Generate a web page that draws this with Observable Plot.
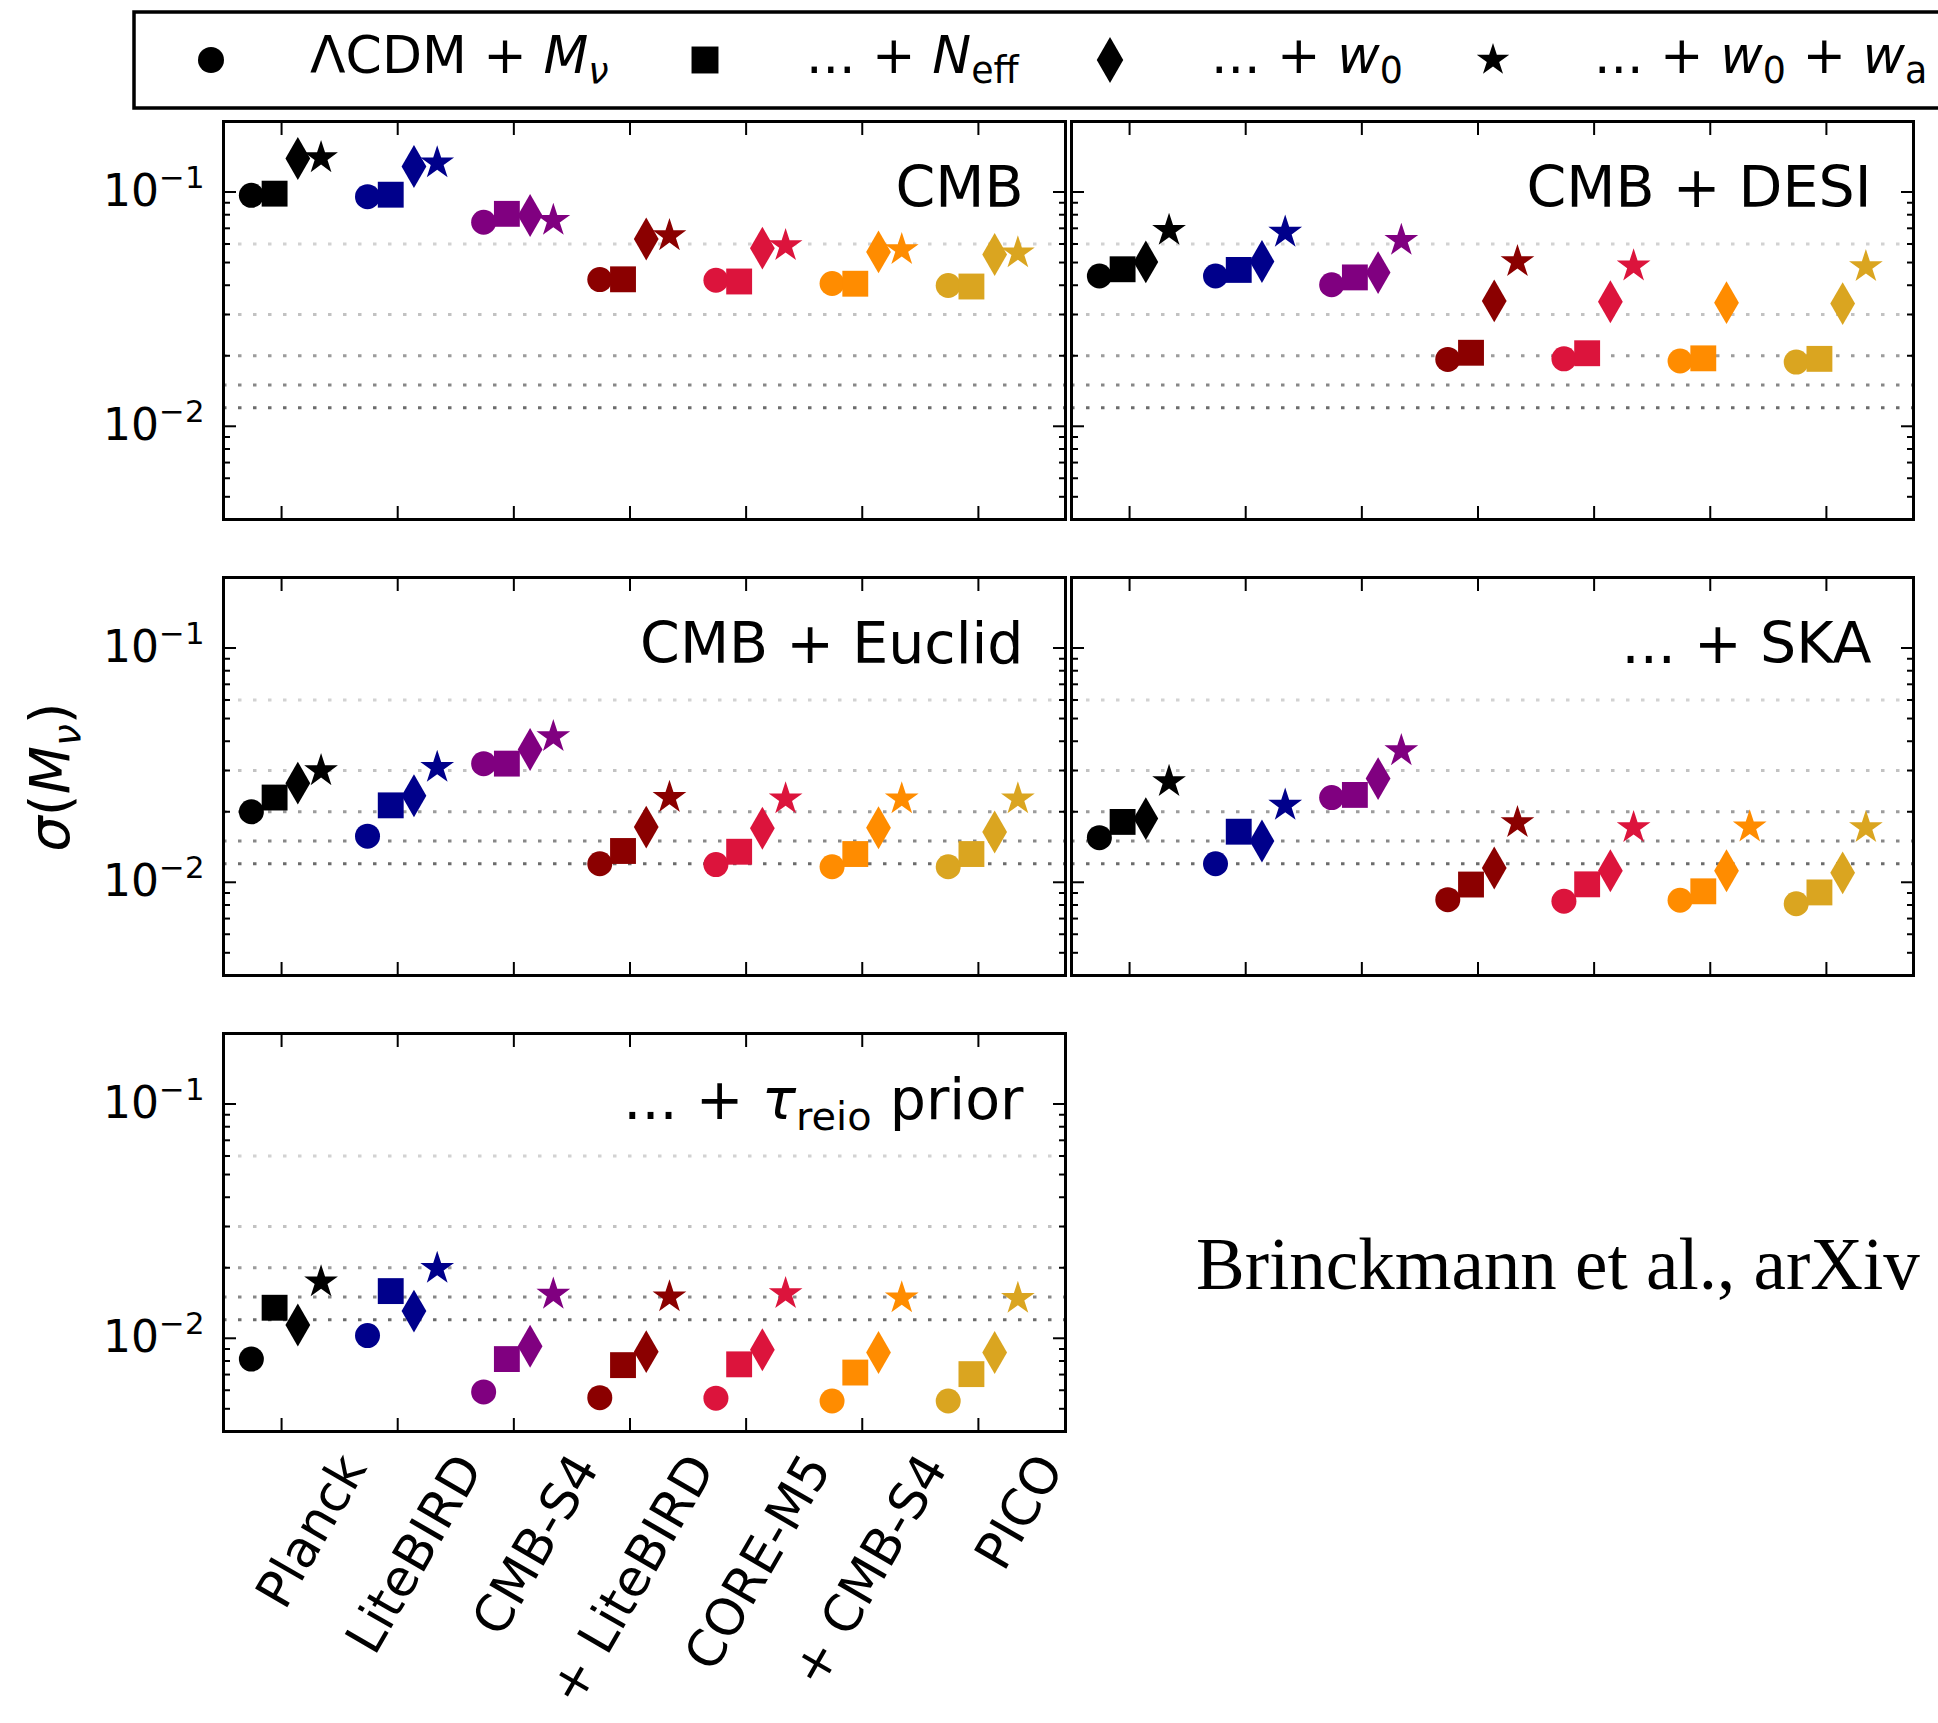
<!DOCTYPE html>
<html><head><meta charset="utf-8">
<script src="https://cdn.jsdelivr.net/npm/d3@7"></script>
<script src="https://cdn.jsdelivr.net/npm/@observablehq/plot@0.6"></script>
<style>
html,body{margin:0;padding:0;background:#fff;overflow:hidden;}
#page{position:relative;width:1938px;height:1723px;overflow:hidden;font-family:"DejaVu Sans",sans-serif;background:#fff;}
#page svg{position:absolute;}
</style></head><body><div id="page"></div>
<script>
// ---------------- data ----------------
const experiments = ["Planck", "LiteBIRD", "CMB-S4", "+ LiteBIRD", "CORE-M5", "+ CMB-S4", "PICO"];
const models = ["ΛCDM + Mν", "... + Neff", "... + w0", "... + w0 + wa"];
const targets = [0.06, 0.03, 0.02, 0.015, 0.012];
const yMajorTicks = [0.01, 0.1];
const yMinorTicks = [0.005, 0.006, 0.007, 0.008, 0.009, 0.02, 0.03, 0.04, 0.05, 0.06, 0.07, 0.08, 0.09];

// panel: CMB
const cmbMnu  = [0.0968, 0.0955, 0.0743, 0.0423, 0.0420, 0.0407, 0.0399];
const cmbNeff = [0.0984, 0.0974, 0.0807, 0.0424, 0.0415, 0.0406, 0.0395];
const cmbW0   = [0.139, 0.1285, 0.0794, 0.0630, 0.0576, 0.0555, 0.0541];
const cmbW0wa = [0.140, 0.133, 0.0756, 0.0650, 0.0590, 0.0567, 0.0549];
// panel: CMB + DESI
const desiMnu  = [0.0438, 0.0438, 0.0402, 0.0193, 0.0194, 0.0190, 0.0188];
const desiNeff = [0.0468, 0.0465, 0.0432, 0.0206, 0.0205, 0.0195, 0.0194];
const desiW0   = [0.0503, 0.0505, 0.0453, 0.0343, 0.0340, 0.0337, 0.0334];
const desiW0wa = [0.0686, 0.0673, 0.0621, 0.0504, 0.0483, null, 0.0480];
// panel: CMB + Euclid
const euclidMnu  = [0.0200, 0.01574, 0.0321, 0.0120, 0.0119, 0.01165, 0.01165];
const euclidNeff = [0.0230, 0.0213, 0.0321, 0.0136, 0.0135, 0.0132, 0.0132];
const euclidW0   = [0.0265, 0.0234, 0.0369, 0.0172, 0.0170, 0.0171, 0.0164];
const euclidW0wa = [0.0299, 0.0309, 0.0418, 0.0230, 0.0227, 0.0227, 0.0227];
// panel: ... + SKA
const skaMnu  = [0.0155, 0.0120, 0.0230, 0.00843, 0.0083, 0.00838, 0.0081];
const skaNeff = [0.0181, 0.01644, 0.0236, 0.00978, 0.0098, 0.00915, 0.00905];
const skaW0   = [0.0187, 0.0150, 0.0277, 0.0115, 0.0112, 0.0112, 0.01097];
const skaW0wa = [0.0269, 0.0213, 0.0364, 0.01795, 0.0171, 0.0172, 0.0171];
// panel: ... + tau_reio prior
const tauMnu  = [0.00815, 0.01027, 0.0059, 0.00558, 0.00555, 0.0054, 0.0054];
const tauNeff = [0.0135, 0.0159, 0.00815, 0.00768, 0.00774, 0.00714, 0.00703];
const tauW0   = [0.0114, 0.01306, 0.00925, 0.00877, 0.00893, 0.0087, 0.0087];
const tauW0wa = [0.0174, 0.01986, 0.0154, 0.0150, 0.0155, 0.01486, 0.0148];

const panelData = [
  [cmbMnu, cmbNeff, cmbW0, cmbW0wa],
  [desiMnu, desiNeff, desiW0, desiW0wa],
  [euclidMnu, euclidNeff, euclidW0, euclidW0wa],
  [skaMnu, skaNeff, skaW0, skaW0wa],
  [tauMnu, tauNeff, tauW0, tauW0wa]
];

// text with math-like parts
const panelTitles = [
  [{t: "CMB"}],
  [{t: "CMB + DESI"}],
  [{t: "CMB + Euclid"}],
  [{t: "... + SKA"}],
  [{t: "... + "}, {t: "τ", i: 1}, {t: "reio", sub: 1}, {t: " prior"}]
];
const legendLabels = [
  [{t: "ΛCDM + "}, {t: "M", i: 1}, {t: "ν", i: 1, sub: 1}],
  [{t: "... + "}, {t: "N", i: 1}, {t: "eff", sub: 1}],
  [{t: "... + "}, {t: "w", i: 1}, {t: "0", sub: 1}],
  [{t: "... + "}, {t: "w", i: 1}, {t: "0", sub: 1}, {t: " + "}, {t: "w", i: 1}, {t: "a", sub: 1}]
];
const yLabel = [{t: "σ", i: 1}, {t: "("}, {t: "M", i: 1}, {t: "ν", i: 1, sub: 1}, {t: ")"}];
const caption = "Brinckmann et al., arXiv";

// ---------------- styles / layout ----------------
const expColors = ["#000000", "#00008b", "#800080", "#8b0000", "#dc143c", "#ff8c00", "#daa520"];
const gridColors = ["#d2d2d2", "#c2c2c2", "#9c9c9c", "#878787", "#6c6c6c"];
const symbols = ["circle", "square", "diamond", "star"];
const radii = [12.5, 14.6, 13, 10.6];
const offsets = [-0.26, -0.06, 0.14, 0.34];
const xDomain = [-0.5, 6.75];
const yDomain = [0.004, 0.2];
const xTicks = experiments.map((_, i) => i);
const FRAME_W = 842, FRAME_H = 398;
const colsX = [223, 1071];
const rowsY = [121, 577, 1033];
const panelPos = [[0, 0], [1, 0], [0, 1], [1, 1], [0, 2]];
const TITLE_SIZE = 57, YTICK_SIZE = 44, XTICK_SIZE = 51;
const svgNS = "http://www.w3.org/2000/svg";
const page = document.getElementById("page");

function setRich(el, segs, size) {
  while (el.firstChild) el.removeChild(el.firstChild);
  let shift = 0;
  for (const s of segs) {
    const ts = document.createElementNS(svgNS, "tspan");
    ts.textContent = s.t;
    const target = s.sub ? 0.2 * size : s.sup ? -0.42 * size : 0;
    if (target !== shift) { ts.setAttribute("dy", target - shift); shift = target; }
    if (s.sub || s.sup) ts.setAttribute("font-size", 0.7 * size);
    if (s.i) ts.setAttribute("font-style", "italic");
    el.appendChild(ts);
  }
}
const plain = segs => segs.map(s => s.t).join("");

function buildPanel(p) {
  const [c, r] = panelPos[p];
  const isLeft = c === 0, isBottom = p === 4;
  const fx = colsX[c], fy = rowsY[r];
  const mL = isLeft ? fx : 4, mR = 4, mT = 4;
  const mB = isBottom ? 1723 - fy - FRAME_H : 4;
  const rows = [];
  panelData[p].forEach((vals, k) => vals.forEach((v, i) => {
    if (v != null) rows.push({i, k, exp: experiments[i], value: v});
  }));
  const marks = [];
  targets.forEach((t, j) => marks.push(Plot.ruleY([t], {stroke: gridColors[j], strokeWidth: 3, strokeDasharray: "3.5,11.5"})));
  models.forEach((m, k) => marks.push(Plot.dot(rows.filter(d => d.k === k), {
    x: d => d.i + offsets[k], y: "value", fill: "exp", symbol: symbols[k], r: radii[k]
  })));
  for (const anchor of ["left", "right"]) {
    marks.push(Plot.axisY({anchor, ticks: yMinorTicks, tickSize: -7, fill: "none", strokeWidth: 2, label: null}));
    marks.push(Plot.axisY({anchor, ticks: yMajorTicks, tickSize: -13, fill: "none", strokeWidth: 2, label: null}));
  }
  for (const anchor of ["top", "bottom"]) {
    marks.push(Plot.axisX({anchor, ticks: xTicks, tickSize: -13, fill: "none", strokeWidth: 2, label: null}));
  }
  if (isLeft) {
    marks.push(Plot.axisY({anchor: "left", ticks: yMajorTicks, tickSize: 0, tickPadding: 19,
      tickFormat: d => "10^" + Math.round(Math.log10(d)), fontSize: YTICK_SIZE, label: null}));
  }
  if (isBottom) {
    marks.push(Plot.axisX({anchor: "bottom", ticks: xTicks, tickSize: 0, tickPadding: 28, dx: 72,
      tickRotate: -60, textAnchor: "end", lineAnchor: "middle",
      tickFormat: i => experiments[i], fontSize: XTICK_SIZE, label: null}));
  }
  marks.push(Plot.text([plain(panelTitles[p])], {text: d => d, frameAnchor: "top-right", dx: -42, dy: 45,
    lineAnchor: "top", textAnchor: "end", fontSize: TITLE_SIZE}));
  marks.push(Plot.frame({strokeWidth: 3}));
  const svg = Plot.plot({
    width: mL + FRAME_W + mR, height: mT + FRAME_H + mB,
    marginLeft: mL, marginRight: mR, marginTop: mT, marginBottom: mB,
    x: {domain: xDomain, axis: null},
    y: {type: "log", domain: yDomain, axis: null},
    color: {domain: experiments, range: expColors},
    style: {background: "transparent", overflow: "visible", fontFamily: "DejaVu Sans"},
    marks
  });
  svg.style.left = (fx - mL) + "px";
  svg.style.top = (fy - mT) + "px";
  page.appendChild(svg);
  // rich text: y tick labels and title
  d3.select(svg).selectAll('g[aria-label="y-axis tick label"] text').each(function() {
    const m = this.textContent.split("^");
    setRich(this, [{t: m[0]}, {t: m[1].replace("-", "−"), sup: 1}], YTICK_SIZE);
  });
  d3.select(svg).selectAll('g[aria-label="text"] text').each(function() {
    setRich(this, panelTitles[p], TITLE_SIZE);
  });
}
for (let p = 0; p < panelData.length; p++) buildPanel(p);

// ---------------- overlay: legend, y label, caption ----------------
const ov = d3.create("svg").attr("width", 1938).attr("height", 1723)
  .style("left", "0px").style("top", "0px")
  .attr("font-family", "DejaVu Sans");
ov.append("rect").attr("x", 134).attr("y", 12).attr("width", 2000).attr("height", 96)
  .attr("fill", "white").attr("stroke", "black").attr("stroke-width", 3.5);
const legSym = [d3.symbolCircle, d3.symbolSquare, d3.symbolDiamond, d3.symbolStar];
const legR = [13, 15.2, 13.9, 10.2];
const legSymX = [211, 705, 1110, 1493];
const legTextX = [310, 806, 1211, 1594];
models.forEach((m, k) => {
  ov.append("path").attr("transform", `translate(${legSymX[k]},60)`)
    .attr("d", d3.symbol(legSym[k], Math.PI * legR[k] * legR[k])()).attr("fill", "black");
  const t = ov.append("text").attr("x", legTextX[k]).attr("y", 73).attr("font-size", 52);
  setRich(t.node(), legendLabels[k], 52);
});
const yl = ov.append("text").attr("transform", "translate(69,777) rotate(-90)")
  .attr("text-anchor", "middle").attr("font-size", 56);
setRich(yl.node(), yLabel, 56);
ov.append("text").attr("x", 1196).attr("y", 1289).attr("font-family", "Liberation Serif")
  .attr("font-size", 73).text(caption);
page.appendChild(ov.node());
</script></body></html>
